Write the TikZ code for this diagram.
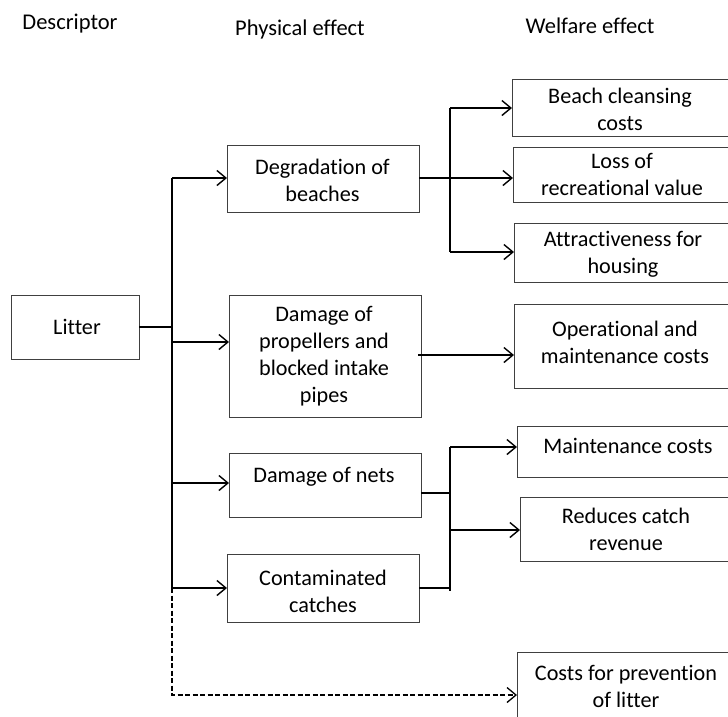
\documentclass[tikz,border=0pt]{standalone}
\usepackage{fontspec}
\setmainfont{Carlito}[Ligatures=NoCommon]
\usetikzlibrary{arrows.meta}
\begin{document}
\begin{tikzpicture}[x=1pt,y=-1pt,
  box/.style={draw=black!75, line width=0.9pt, inner sep=0pt, outer sep=0pt},
  txt/.style={font=\fontsize{22.2}{27}\selectfont, align=center, inner sep=0pt},
  head/.style={font=\fontsize{22.5}{26}\selectfont, inner sep=0pt},
  conn/.style={line width=1.4pt, black},
  arr/.style={conn, -{Straight Barb[length=9pt, width=15pt]}},
  dsh/.style={conn, line width=1.3pt, dash pattern=on 5pt off 2.5pt},
]
\useasboundingbox (0,0) rectangle (728,716);
\clip (0,0) rectangle (728,716);

% headers
\node[head] (hdesc) at (70,24) {Descriptor};
\node[head] (hphys) at (300,29) {Physical effect};
\node[head] (hwelf) at (590,26) {Welfare effect};

% boxes
\node[box, minimum width=128pt, minimum height=64pt] (litter) at (75,327) {};
\node[box, minimum width=192pt, minimum height=67pt] (deg) at (323,179) {};
\node[box, minimum width=192pt, minimum height=122pt] (prop) at (325,356) {};
\node[box, minimum width=192pt, minimum height=64pt] (nets) at (325,485) {};
\node[box, minimum width=192pt, minimum height=68pt] (cont) at (323,588) {};
\node[box, minimum width=228pt, minimum height=57pt] (beach) at (626,107.5) {};
\node[box, minimum width=227pt, minimum height=55pt] (loss) at (626.5,174.5) {};
\node[box, minimum width=226pt, minimum height=59pt] (attr) at (627,252.5) {};
\node[box, minimum width=226pt, minimum height=84pt] (oper) at (627,346) {};
\node[box, minimum width=223pt, minimum height=51pt] (maint) at (628.5,451.5) {};
\node[box, minimum width=220pt, minimum height=64pt] (reduce) at (630,529) {};
\node[box, minimum width=223pt, minimum height=88pt] (prev) at (628.5,696) {};

% texts
\node[txt] (tlitter) at (77,327) {Litter};
\node[txt] (tdeg) at (322.5,180) {Degradation of\\beaches};
\node[txt] (tprop) at (324,356) {Damage of\\propellers and\\blocked intake\\pipes};
\node[txt] (tnets) at (324,477) {Damage of nets};
\node[txt] (tcont) at (323,591) {Contaminated\\catches};
\node[txt] (tbeach) at (620,109.5) {Beach cleansing\\costs};
\node[txt] (tloss) at (622,174) {Loss of\\recreational value};
\node[txt] (tattr) at (623,254.5) {Attractiveness for\\housing};
\node[txt] (toper) at (625,342) {Operational and\\maintenance costs};
\node[txt] (tmaint) at (628,446) {Maintenance costs};
\node[txt] (treduce) at (626,529) {Reduces catch\\revenue};
\node[txt] (tprev) at (626,686.5) {Costs for prevention\\of litter};

% junction coordinates
\coordinate (j0) at (172,327);
\coordinate (jdeg) at (172,178);
\coordinate (jprop) at (172,342);
\coordinate (jnets) at (172,483);
\coordinate (jcont) at (172,588);
\coordinate (jprev) at (172,695);
\coordinate (k1) at (450,108);
\coordinate (k2) at (450,178);
\coordinate (k3) at (450,252);
\coordinate (m1) at (450,447);
\coordinate (m2) at (450,530);
\coordinate (mnets) at (450,493);
\coordinate (mcont) at (450,591);

% left trunk
\draw[conn] (litter.east |- j0) -- (j0);
\draw[conn] (jdeg) -- (jcont);
\draw[arr] (jdeg) -- (jdeg -| deg.west);
\draw[arr] (jprop) -- (jprop -| prop.west);
\draw[arr] (jnets) -- (jnets -| nets.west);
\draw[arr] (jcont) -- (jcont -| cont.west);
\draw[dsh, -{Straight Barb[length=9pt, width=15pt]}] (jcont) -- (jprev) -- (jprev -| prev.west);

% degradation branch
\draw[conn] (k2 -| deg.east) -- (k2);
\draw[conn] (k1) -- (k3);
\draw[arr] (k1) -- (k1 -| beach.west);
\draw[arr] (k2) -- (k2 -| loss.west);
\draw[arr] (k3) -- (k3 -| attr.west);

% propellers branch
\draw[arr] (418,355) -- (oper.west |- 0,355);

% nets / catches branch
\draw[conn] (mnets -| nets.east) -- (mnets);
\draw[conn] (450,588 -| cont.east) -- (450,588);
\draw[conn] (m1) -- (mcont);
\draw[arr] (m1) -- (m1 -| maint.west);
\draw[arr] (m2) -- (m2 -| reduce.west);
\end{tikzpicture}
\end{document}
